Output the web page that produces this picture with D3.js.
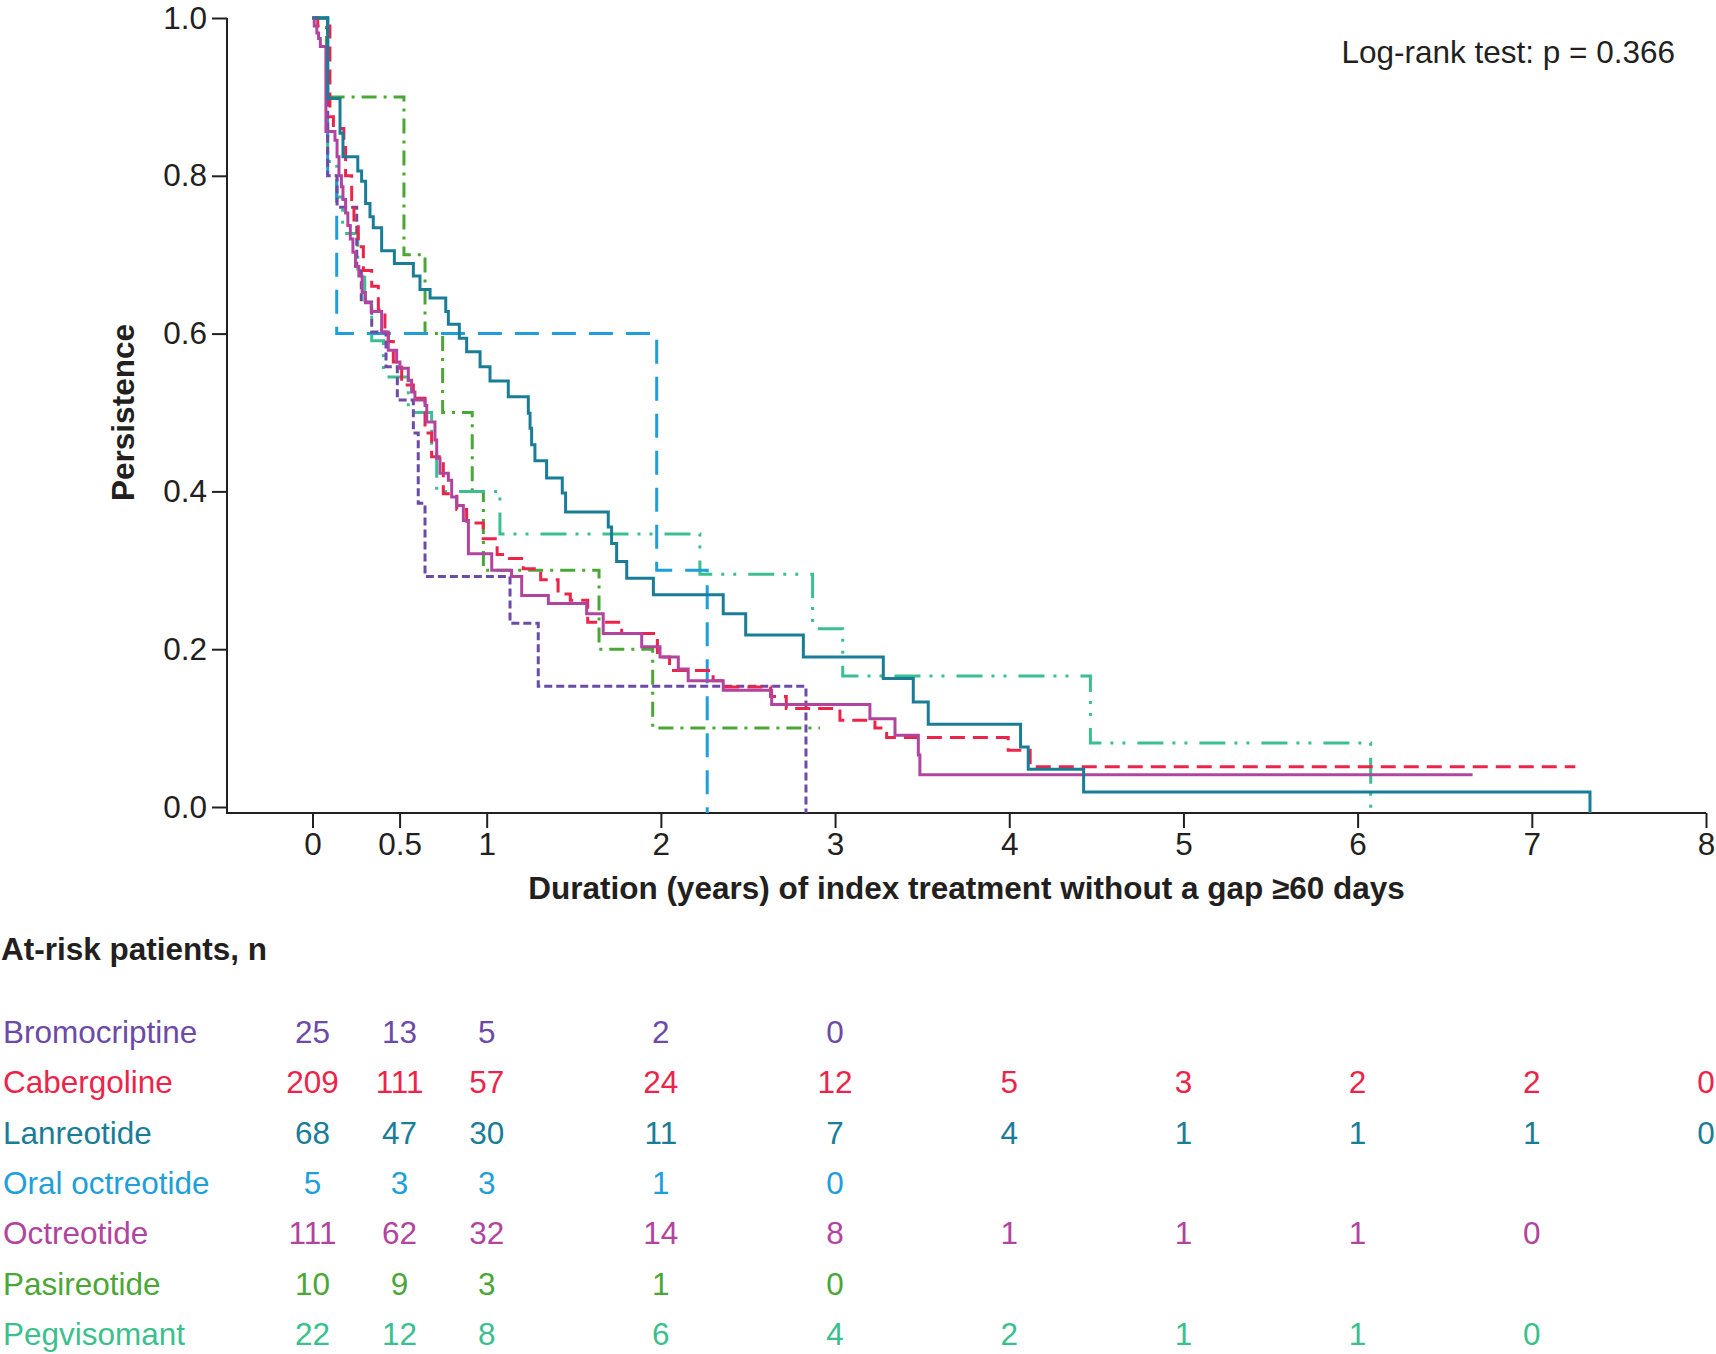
<!DOCTYPE html>
<html>
<head>
<meta charset="utf-8">
<script src="https://cdn.jsdelivr.net/npm/d3@7/dist/d3.min.js"></script>
<style>
  body { margin: 0; background: #fff; }
  svg text { font-family: "Liberation Sans", Arial, Helvetica, sans-serif; fill: #231f20; }
</style>
</head>
<body>
<div id="chart"></div>
<script>
// Kaplan-Meier steps: [years, persistence]
const bromocriptine = [[0,1],[0.087,0.8],[0.141,0.76],[0.254,0.685],[0.28,0.64],[0.34,0.602],[0.422,0.558],[0.487,0.516],[0.579,0.474],[0.607,0.385],[0.646,0.292],[1.134,0.233],[1.296,0.153],[2.833,0]];
const cabergoline = [[0,1],[0.03,0.99],[0.1,0.875],[0.12,0.86],[0.18,0.84],[0.19,0.8],[0.225,0.77],[0.238,0.74],[0.263,0.71],[0.292,0.68],[0.34,0.66],[0.378,0.63],[0.416,0.6],[0.435,0.59],[0.464,0.564],[0.512,0.535],[0.579,0.518],[0.646,0.474],[0.684,0.444],[0.751,0.397],[0.828,0.377],[0.885,0.36],[0.98,0.34],[1.06,0.32],[1.13,0.315],[1.21,0.302],[1.31,0.288],[1.41,0.27],[1.48,0.262],[1.58,0.234],[1.775,0.22],[1.98,0.19],[2.05,0.173],[2.3,0.16],[2.37,0.152],[2.63,0.14],[2.72,0.125],[3.028,0.11],[3.229,0.1],[3.296,0.088],[3.994,0.072],[4.12,0.051],[7.25,0.051]];
const lanreotide = [[0,1],[0.087,0.898],[0.158,0.854],[0.175,0.824],[0.26,0.806],[0.282,0.793],[0.305,0.765],[0.33,0.748],[0.349,0.734],[0.397,0.705],[0.47,0.689],[0.579,0.673],[0.617,0.656],[0.675,0.645],[0.765,0.628],[0.78,0.612],[0.843,0.594],[0.885,0.577],[0.962,0.558],[1.019,0.54],[1.124,0.52],[1.239,0.499],[1.249,0.48],[1.258,0.459],[1.277,0.439],[1.344,0.417],[1.434,0.398],[1.453,0.374],[1.698,0.355],[1.717,0.334],[1.746,0.311],[1.804,0.29],[1.957,0.269],[2.358,0.245],[2.487,0.218],[2.818,0.19],[3.277,0.163],[3.449,0.133],[3.535,0.105],[4.065,0.076],[4.109,0.048],[4.427,0.019],[7.334,0]];
const oralOctreotide = [[0,1],[0.087,0.8],[0.139,0.6],[1.976,0.3],[2.266,0]];
const octreotide = [[0,1],[0.01,0.99],[0.025,0.981],[0.035,0.974],[0.045,0.964],[0.077,0.856],[0.129,0.845],[0.141,0.824],[0.152,0.8],[0.166,0.786],[0.175,0.77],[0.19,0.753],[0.203,0.737],[0.217,0.72],[0.232,0.703],[0.247,0.685],[0.266,0.673],[0.285,0.652],[0.304,0.639],[0.337,0.628],[0.397,0.602],[0.435,0.579],[0.483,0.564],[0.502,0.556],[0.55,0.541],[0.569,0.526],[0.588,0.516],[0.646,0.509],[0.656,0.488],[0.703,0.465],[0.713,0.442],[0.732,0.423],[0.78,0.414],[0.799,0.393],[0.828,0.382],[0.866,0.363],[0.895,0.321],[1.029,0.3],[1.143,0.292],[1.201,0.268],[1.354,0.258],[1.574,0.245],[1.669,0.22],[1.89,0.203],[1.995,0.19],[2.1,0.175],[2.157,0.16],[2.358,0.148],[2.636,0.13],[3.2,0.112],[3.344,0.091],[3.478,0.066],[3.487,0.041],[6.66,0.041]];
const pasireotide = [[0,1],[0.08,0.9],[0.525,0.7],[0.646,0.6],[0.747,0.5],[0.917,0.4],[0.981,0.3],[1.645,0.2],[1.953,0.1],[2.913,0.1]];
const pegvisomant = [[0,1],[0.087,0.818],[0.139,0.773],[0.173,0.727],[0.26,0.682],[0.3,0.636],[0.34,0.591],[0.407,0.545],[0.55,0.5],[0.684,0.455],[0.713,0.4],[1.076,0.346],[2.224,0.295],[2.871,0.226],[3.044,0.166],[4.466,0.081],[6.075,0]];

// at-risk table
const riskTimes = [0, 0.5, 1, 2, 3, 4, 5, 6, 7, 8];
const riskBromocriptine = [25, 13, 5, 2, 0];
const riskCabergoline = [209, 111, 57, 24, 12, 5, 3, 2, 2, 0];
const riskLanreotide = [68, 47, 30, 11, 7, 4, 1, 1, 1, 0];
const riskOralOctreotide = [5, 3, 3, 1, 0];
const riskOctreotide = [111, 62, 32, 14, 8, 1, 1, 1, 0];
const riskPasireotide = [10, 9, 3, 1, 0];
const riskPegvisomant = [22, 12, 8, 6, 4, 2, 1, 1, 0];

const xTicks = [0, 0.5, 1, 2, 3, 4, 5, 6, 7, 8];
const yTicks = [0, 0.2, 0.4, 0.6, 0.8, 1.0];

const groups = [
  { name: "Bromocriptine", data: bromocriptine, risk: riskBromocriptine, color: "#6c4aa6", dash: "8,4" },
  { name: "Cabergoline", data: cabergoline, risk: riskCabergoline, color: "#ec2449", dash: "15,8" },
  { name: "Lanreotide", data: lanreotide, risk: riskLanreotide, color: "#1a7d98", dash: null },
  { name: "Oral octreotide", data: oralOctreotide, risk: riskOralOctreotide, color: "#1e9fdb", dash: "24,13" },
  { name: "Octreotide", data: octreotide, risk: riskOctreotide, color: "#b1449e", dash: null },
  { name: "Pasireotide", data: pasireotide, risk: riskPasireotide, color: "#4ba735", dash: "15,7,3,7" },
  { name: "Pegvisomant", data: pegvisomant, risk: riskPegvisomant, color: "#3cbf8e", dash: "26,9,3,9,3,12" }
];
// order the curves are painted in (last on top)
const drawOrder = ["Pasireotide", "Pegvisomant", "Oral octreotide", "Bromocriptine", "Cabergoline", "Octreotide", "Lanreotide"];

const W = 1716, H = 1354;
const axisX = 227, axisY = 813;
const fs = 31.5;

const svg = d3.select("#chart").append("svg")
  .attr("width", W).attr("height", H);

const x = d3.scaleLinear().domain([0, 8]).range([312.5, 1706]);
const y = d3.scaleLinear().domain([0, 1]).range([807, 18]);

// axes
svg.append("g")
  .attr("transform", `translate(${axisX},0)`)
  .call(d3.axisLeft(y).tickValues(yTicks).tickFormat(d3.format(".1f")).tickSize(15).tickPadding(5));
svg.append("g")
  .attr("transform", `translate(0,${axisY})`)
  .call(d3.axisBottom(x).tickValues(xTicks).tickFormat(d => d).tickSize(15).tickPadding(5));
svg.selectAll(".domain").remove();
svg.selectAll(".tick line").attr("stroke", "#231f20").attr("stroke-width", 2);
svg.selectAll(".tick text").style("font-size", fs + "px").attr("fill", "#231f20");

svg.append("path")
  .attr("d", `M${axisX},${y(1)}V${axisY}H${x(8)}`)
  .attr("fill", "none").attr("stroke", "#231f20").attr("stroke-width", 2);

// curves
const line = d3.line()
  .x(d => x(d[0]))
  .y(d => d[1] === 0 ? axisY : y(d[1]))
  .curve(d3.curveStepAfter);

const byName = new Map(groups.map(g => [g.name, g]));
svg.append("g").selectAll("path")
  .data(drawOrder.map(n => byName.get(n)))
  .join("path")
  .attr("d", g => line(g.data))
  .attr("fill", "none")
  .attr("stroke", g => g.color)
  .attr("stroke-width", 3)
  .attr("stroke-dasharray", g => g.dash);

// titles
svg.append("text")
  .attr("x", (axisX + x(8)) / 2).attr("y", 899)
  .attr("text-anchor", "middle")
  .style("font-size", fs + "px").style("font-weight", "bold")
  .text("Duration (years) of index treatment without a gap \u226560 days");

svg.append("text")
  .attr("transform", `translate(134,${(y(0) + y(1)) / 2}) rotate(-90)`)
  .attr("text-anchor", "middle")
  .style("font-size", fs + "px").style("font-weight", "bold")
  .text("Persistence");

svg.append("text")
  .attr("x", 1675).attr("y", 63)
  .attr("text-anchor", "end")
  .style("font-size", fs + "px")
  .text("Log-rank test: p = 0.366");

// at-risk table
svg.append("text")
  .attr("x", 1).attr("y", 960)
  .style("font-size", fs + "px").style("font-weight", "bold")
  .text("At-risk patients, n");

const rows = svg.append("g").selectAll("g")
  .data(groups)
  .join("g")
  .attr("transform", (g, i) => `translate(0,${1043 + i * 50.3})`);

rows.append("text")
  .attr("x", 3)
  .style("font-size", fs + "px")
  .style("fill", g => g.color)
  .text(g => g.name);

rows.selectAll(".n")
  .data(g => g.risk.map((v, i) => ({ v, t: riskTimes[i], color: g.color })))
  .join("text")
  .attr("class", "n")
  .attr("x", d => x(d.t))
  .attr("text-anchor", "middle")
  .style("font-size", fs + "px")
  .style("fill", d => d.color)
  .text(d => d.v);
</script>
</body>
</html>
